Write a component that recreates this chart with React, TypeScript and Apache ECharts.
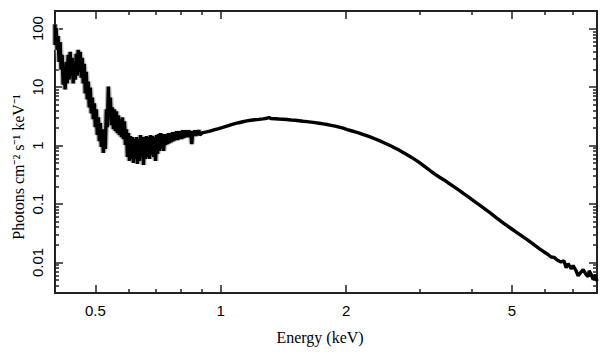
import React, { useEffect, useRef } from "react";
import * as echarts from "echarts";

// Energy channels (keV)
const energy: number[] = [
  0.4, 0.4002, 0.4024, 0.4047, 0.4069, 0.4092, 0.4115, 0.4138, 0.4161, 0.4184,
  0.4207, 0.423, 0.4254, 0.4278, 0.4302, 0.4326, 0.435, 0.4374, 0.4398, 0.4423,
  0.4447, 0.4472, 0.4497, 0.4522, 0.4547, 0.4573, 0.4598, 0.4624, 0.465, 0.4676,
  0.4702, 0.4728, 0.4754, 0.4781, 0.4808, 0.4834, 0.4861, 0.4888, 0.4916, 0.4943,
  0.4971, 0.4999, 0.5026, 0.5054, 0.5083, 0.511, 0.5139, 0.5167, 0.5196, 0.5225,
  0.5254, 0.5283, 0.5313, 0.5342, 0.5372, 0.5402, 0.5432, 0.5462, 0.5492, 0.5523,
  0.5554, 0.5585, 0.5616, 0.5647, 0.5678, 0.571, 0.5742, 0.5774, 0.5806, 0.5838,
  0.5871, 0.5903, 0.5936, 0.5969, 0.6002, 0.6036, 0.6069, 0.6103, 0.6137, 0.6171,
  0.6206, 0.624, 0.6275, 0.631, 0.6345, 0.638, 0.6416, 0.6451, 0.6487, 0.6523,
  0.656, 0.6596, 0.6633, 0.667, 0.6707, 0.6744, 0.6782, 0.682, 0.6858, 0.6896,
  0.6934, 0.6973, 0.7012, 0.7051, 0.709, 0.713, 0.7169, 0.7209, 0.725, 0.729,
  0.7331, 0.7371, 0.7413, 0.7454, 0.7495, 0.7537, 0.7579, 0.7621, 0.7664, 0.7706,
  0.7749, 0.7792, 0.7836, 0.788, 0.7923, 0.7968, 0.8012, 0.8057, 0.8102, 0.8147,
  0.8192, 0.8238, 0.8284, 0.833, 0.8376, 0.8423, 0.847, 0.8517, 0.8565, 0.8612,
  0.866, 0.8709, 0.8757, 0.8806, 0.8855, 0.8904,
  0.905, 0.9253, 0.946, 0.9672, 0.989, 1.0111, 1.0339, 1.057, 1.0807, 1.105,
  1.1298, 1.1551, 1.181, 1.2075, 1.2346, 1.2623, 1.2906, 1.305, 1.3196, 1.3492,
  1.3795, 1.4104, 1.442, 1.4744, 1.5074, 1.5412, 1.5758, 1.6111, 1.6473, 1.6842,
  1.722, 1.7606, 1.8001, 1.8404, 1.8817, 1.9239, 1.967, 2.0121, 2.0572, 2.1034,
  2.1505, 2.1988, 2.2481, 2.2985, 2.35, 2.4028, 2.4566, 2.5119, 2.5682, 2.6258,
  2.6847, 2.7449, 2.8065, 2.8694, 2.9338, 2.9996, 3.0669, 3.1357, 3.206, 3.2779,
  3.3514, 3.4266, 3.5035, 3.5821, 3.6624, 3.7446, 3.8286, 3.9145, 4.0023, 4.0921,
  4.1839, 4.2777, 4.3737, 4.4718, 4.5721, 4.6747, 4.7795, 4.8867, 4.9963, 5.1084,
  5.223, 5.3402, 5.46, 5.5825, 5.7077, 5.8357,
  5.969, 6.104, 6.206, 6.31, 6.418, 6.559, 6.669, 6.744, 6.819, 6.934,
  7.011, 7.129, 7.208, 7.329, 7.411, 7.535, 7.619, 7.662, 7.748, 7.834,
  7.921, 7.965, 8.0,
];

// Unfolded flux (photons cm^-2 s^-1 keV^-1)
const flux: number[] = [
  119, 52.5, 102, 43.2, 74.6, 27.0, 59.0, 19.8, 35.5, 11.0,
  21.4, 9.07, 27.0, 11.5, 35.5, 13.4, 40.0, 15.7, 31.6, 11.5,
  27.0, 13.4, 37.0, 15.7, 43.2, 18.3, 40.0, 14.5, 31.6, 11.5,
  25.0, 7.76, 18.3, 6.14, 12.4, 4.49, 9.81, 3.55, 6.64, 2.81,
  5.25, 2.06, 4.15, 1.51, 3.04, 1.19, 2.41, 0.943, 1.9, 0.746,
  1.51, 0.873, 4.15, 2.06, 10.2, 3.04, 6.64, 2.23, 4.49, 1.9,
  4.15, 1.76, 3.84, 1.63, 3.29, 1.51, 2.81, 1.39, 3.04, 1.29,
  2.6, 1.02, 1.9, 0.638, 1.63, 0.546, 1.45, 0.59, 1.39, 0.505,
  1.29, 0.59, 1.39, 0.486, 1.29, 0.546, 1.51, 0.638, 1.39, 0.467,
  1.39, 0.59, 1.45, 0.638, 1.39, 0.59, 1.51, 0.69, 1.45, 0.638,
  1.39, 0.546, 1.51, 0.718, 1.57, 0.807, 1.63, 0.873, 1.57, 0.807,
  1.57, 1.02, 1.57, 1.06, 1.63, 1.1, 1.63, 1.15, 1.69, 1.19,
  1.69, 1.24, 1.76, 1.24, 1.76, 1.29, 1.76, 1.29, 1.83, 1.34,
  1.83, 1.39, 1.83, 1.39, 1.83, 1.39, 1.76, 1.06, 1.76, 1.45,
  1.83, 1.45, 1.83, 1.51, 1.83, 1.51,
  1.661, 1.707, 1.775, 1.867, 1.942, 2.035, 2.141, 2.261, 2.36, 2.454,
  2.551, 2.643, 2.705, 2.759, 2.802, 2.857, 2.925, 3.018, 2.891, 2.869,
  2.835, 2.813, 2.78, 2.737, 2.705, 2.653, 2.602, 2.561, 2.512, 2.464,
  2.407, 2.351, 2.287, 2.217, 2.149, 2.067, 1.98, 1.875, 1.789, 1.707,
  1.629, 1.542, 1.46, 1.377, 1.294, 1.211, 1.129, 1.048, 0.973, 0.9,
  0.826, 0.755, 0.688, 0.626, 0.568, 0.508, 0.453, 0.401, 0.3555, 0.3188,
  0.2869, 0.2602, 0.2333, 0.2099, 0.1882, 0.1693, 0.1506, 0.135, 0.1201, 0.1069,
  0.0958, 0.0852, 0.0758, 0.0669, 0.059, 0.0525, 0.0467, 0.0416, 0.0373, 0.0334,
  0.03, 0.0268, 0.0241, 0.0214, 0.019, 0.0169,
  0.0151, 0.0137, 0.0124, 0.0122, 0.011, 0.0102, 0.0106, 0.0081, 0.0095, 0.0078,
  0.0088, 0.0072, 0.0059, 0.0069, 0.0075, 0.0062, 0.0057, 0.0072, 0.0062, 0.0051,
  0.0062, 0.0053, 0.0048,
];

const xMajorTicks = [0.5, 1, 2, 5];
const xMinorTicks = [0.6, 0.7, 0.8, 0.9, 3, 4, 6, 7];
const yMajorTicks = [0.01, 0.1, 1, 10, 100];
const yMinorTicks = [
  0.003, 0.004, 0.005, 0.006, 0.007, 0.008, 0.009,
  0.02, 0.03, 0.04, 0.05, 0.06, 0.07, 0.08, 0.09,
  0.2, 0.3, 0.4, 0.5, 0.6, 0.7, 0.8, 0.9,
  2, 3, 4, 5, 6, 7, 8, 9,
  20, 30, 40, 50, 60, 70, 80, 90,
];

// energy below which the spectrum is noisy and shows visible error bars
const NOISY_LIMIT = 0.9;

const X_MIN = 0.4;
const X_MAX = 8;
const Y_MIN = 0.003;
const Y_MAX = 200;

const AXIS_COLOR = "#222";
const LABEL_FONT = "'Liberation Sans', Arial, sans-serif";
const TITLE_FONT = "'Liberation Serif', 'Times New Roman', serif";

function makeXAxis(position: "bottom" | "top", major: boolean, labels: boolean) {
  return {
    type: "log",
    logBase: 10,
    min: X_MIN,
    max: X_MAX,
    position,
    axisLine: { show: true, onZero: false, lineStyle: { color: AXIS_COLOR, width: 2 } },
    axisTick: {
      show: true,
      inside: true,
      length: major ? 8 : 4,
      customValues: major ? xMajorTicks : xMinorTicks,
      lineStyle: { color: AXIS_COLOR, width: 1.5 },
    },
    axisLabel: labels
      ? {
          show: true,
          customValues: xMajorTicks,
          margin: 10,
          color: "#000",
          fontSize: 15,
          fontFamily: LABEL_FONT,
          formatter: (v: number) => String(v),
        }
      : { show: false },
    splitLine: { show: false },
    minorTick: { show: false },
  };
}

function makeYAxis(position: "left" | "right", major: boolean, labels: boolean) {
  return {
    type: "log",
    logBase: 10,
    min: Y_MIN,
    max: Y_MAX,
    position,
    axisLine: { show: true, onZero: false, lineStyle: { color: AXIS_COLOR, width: 2 } },
    axisTick: {
      show: true,
      inside: true,
      length: major ? 8 : 4,
      customValues: major ? yMajorTicks : yMinorTicks,
      lineStyle: { color: AXIS_COLOR, width: 1.5 },
    },
    axisLabel: labels
      ? {
          show: true,
          customValues: yMajorTicks,
          rotate: 90,
          margin: 10,
          color: "#000",
          fontSize: 15,
          fontFamily: LABEL_FONT,
          formatter: (v: number) => String(v),
        }
      : { show: false },
    splitLine: { show: false },
    minorTick: { show: false },
  };
}

export default function App() {
  const ref = useRef<HTMLDivElement>(null);

  useEffect(() => {
    if (!ref.current) return;
    const chart = echarts.init(ref.current, undefined, { renderer: "svg" });
    const data = energy.map((e, i) => [e, flux[i]]);
    const noisy = data.filter((d) => d[0] < NOISY_LIMIT);
    chart.setOption({
      animation: false,
      backgroundColor: "#fff",
      grid: { left: 55, right: 12, top: 11, bottom: 64, containLabel: false },
      xAxis: [
        makeXAxis("bottom", true, true),
        makeXAxis("bottom", false, false),
        makeXAxis("top", true, false),
        makeXAxis("top", false, false),
      ],
      yAxis: [
        makeYAxis("left", true, true),
        makeYAxis("left", false, false),
        makeYAxis("right", true, false),
        makeYAxis("right", false, false),
      ],
      series: [
        {
          type: "line",
          xAxisIndex: 0,
          yAxisIndex: 0,
          data: noisy,
          showSymbol: false,
          symbol: "none",
          lineStyle: { color: "#bdbdbd", width: 6 },
          clip: true,
          z: 1,
        },
        {
          type: "line",
          xAxisIndex: 0,
          yAxisIndex: 0,
          data,
          showSymbol: false,
          symbol: "none",
          lineStyle: { color: "#000", width: 3.4 },
          clip: true,
          z: 2,
        },
      ],
      graphic: [
        {
          type: "text",
          x: 320,
          y: 337,
          style: {
            text: "Energy (keV)",
            fill: "#000",
            fontSize: 16,
            fontFamily: TITLE_FONT,
            align: "center",
            verticalAlign: "middle",
          },
        },
        {
          type: "text",
          x: 18,
          y: 167,
          rotation: Math.PI / 2,
          style: {
            text: "Photons cm\u207B\u00B2 s\u207B\u00B9 keV\u207B\u00B9",
            fill: "#000",
            fontSize: 16,
            fontFamily: TITLE_FONT,
            align: "center",
            verticalAlign: "middle",
          },
        },
      ],
    });
    return () => chart.dispose();
  }, []);

  return (
    <div
      ref={ref}
      style={{ position: "fixed", left: 0, top: 0, width: 609, height: 357, background: "#fff" }}
    />
  );
}
